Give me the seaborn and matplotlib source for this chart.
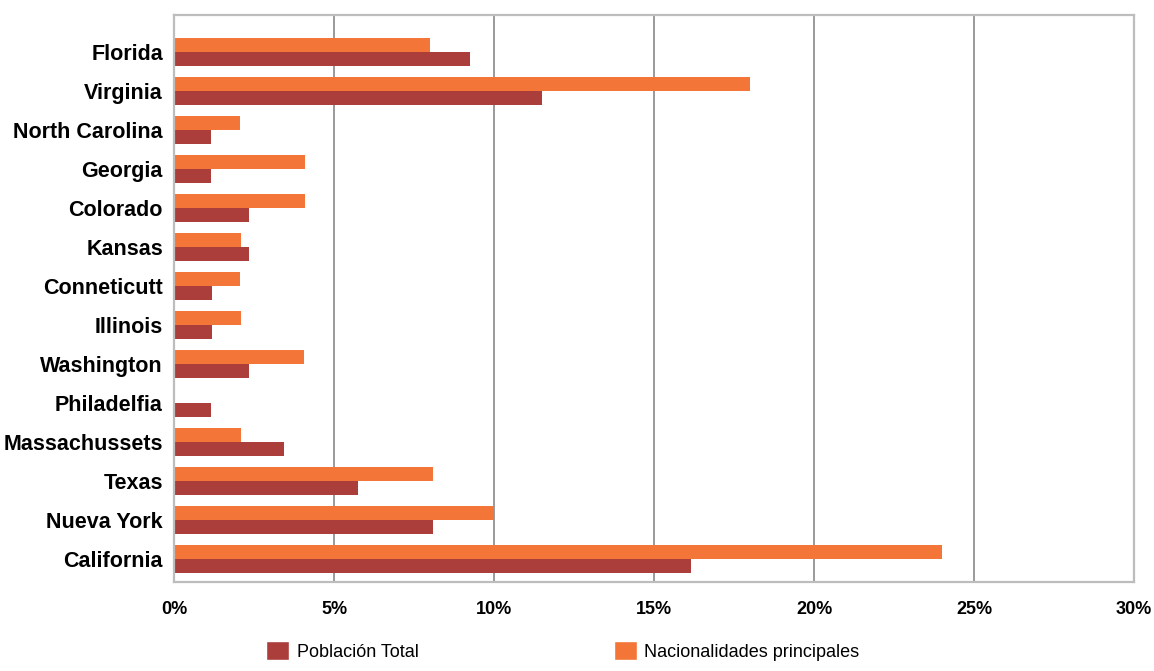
import matplotlib
matplotlib.use("Agg")
import matplotlib.pyplot as plt
import seaborn as sns
import pandas as pd
from matplotlib.ticker import FuncFormatter
from matplotlib.patches import Patch

# Share of each state (percent)
states = ["Florida", "Virginia", "North Carolina", "Georgia", "Colorado", "Kansas",
          "Conneticutt", "Illinois", "Washington", "Philadelfia", "Massachussets",
          "Texas", "Nueva York", "California"]
poblacion_total = [9.25, 11.5, 1.15, 1.15, 2.35, 2.35, 1.2, 1.2, 2.35, 1.15, 3.45, 5.75, 8.1, 16.15]
nacionalidades = [8.0, 18.0, 2.05, 4.1, 4.1, 2.1, 2.05, 2.1, 4.05, 0.0, 2.1, 8.1, 10.0, 24.0]
x_ticks = [0, 5, 10, 15, 20, 25, 30]

series_names = ["Nacionalidades principales", "Población Total"]
colors = {"Población Total": "#AB3E3A", "Nacionalidades principales": "#F37537"}

df = pd.concat([
    pd.DataFrame({"estado": states, "valor": nacionalidades, "serie": series_names[0]}),
    pd.DataFrame({"estado": states, "valor": poblacion_total, "serie": series_names[1]}),
])

sns.set_style("white")
plt.rcParams["font.family"] = ["Liberation Sans Narrow", "Liberation Sans", "DejaVu Sans"]
plt.rcParams["text.color"] = "black"
plt.rcParams["xtick.color"] = "black"
plt.rcParams["ytick.color"] = "black"

fig = plt.figure(figsize=(11.54, 6.71), dpi=100)
ax = fig.add_axes([0.1508, 0.1326, 0.8319, 0.845])

sns.barplot(data=df, y="estado", x="valor", hue="serie", order=states,
            hue_order=series_names, palette=colors, orient="h",
            width=0.72, saturation=1, linewidth=0, ax=ax, legend=False)

ax.set_xlim(0, 30)
ax.set_ylim(13.59, -0.95)
ax.set_xticks(x_ticks)
ax.xaxis.set_major_formatter(FuncFormatter(lambda v, p: f"{v:.0f}%"))
ax.grid(axis="x", color="#7f7f7f", linewidth=1.1)
ax.set_axisbelow(True)
ax.set_xlabel("")
ax.set_ylabel("")
ax.tick_params(axis="both", length=0)
ax.tick_params(axis="x", pad=14, labelsize=13)
ax.tick_params(axis="y", pad=8, labelsize=15.5)
for lab in ax.get_xticklabels() + ax.get_yticklabels():
    lab.set_fontweight("bold")
for s in ax.spines.values():
    s.set_color("#bdbdbd")
    s.set_linewidth(1.6)

handles = [Patch(facecolor=colors["Población Total"], label="Población Total"),
           Patch(facecolor=colors["Nacionalidades principales"], label="Nacionalidades principales")]
fig.legend(handles=handles, loc="lower left", bbox_to_anchor=(0.2227, 0.002), ncol=2,
           frameon=False, fontsize=13, handlelength=1.3, handleheight=1.3,
           handletextpad=0.4, columnspacing=10.8, borderpad=0)

fig.savefig("out.png", dpi=100)
